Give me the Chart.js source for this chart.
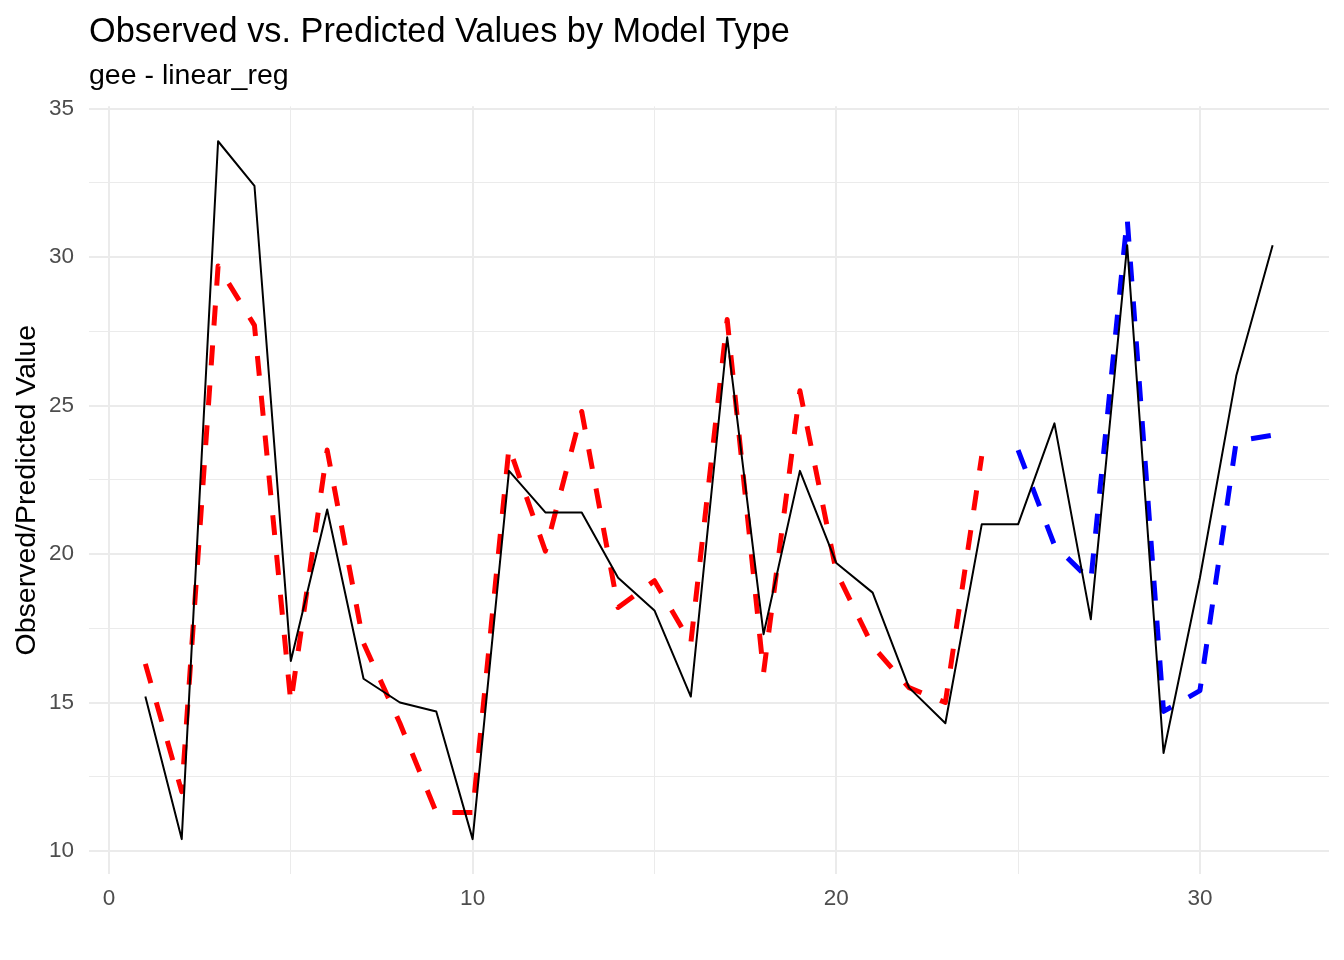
<!DOCTYPE html>
<html>
<head>
<meta charset="utf-8">
<script src="https://cdn.jsdelivr.net/npm/chart.js@4.4.1/dist/chart.umd.min.js"></script>
<style>
  html, body { margin: 0; padding: 0; background: #fff; }
  #wrap { width: 1344px; height: 960px; }
</style>
</head>
<body>
<div id="wrap"><canvas id="myChart" width="1344" height="960"></canvas></div>
<script>
// observation index 1..32
const obsIndex = [1, 2, 3, 4, 5, 6, 7, 8, 9, 10, 11, 12, 13, 14, 15, 16,
                  17, 18, 19, 20, 21, 22, 23, 24, 25, 26, 27, 28, 29, 30, 31, 32];
const observed = [15.2, 10.4, 33.9, 32.4, 16.4, 21.5, 15.8, 15.0, 14.7, 10.4, 22.8, 21.4, 21.4, 19.2, 18.1, 15.2,
                  27.3, 17.3, 22.8, 19.7, 18.7, 15.5, 14.3, 21.0, 21.0, 24.4, 17.8, 30.4, 13.3, 19.2, 26.0, 30.4];
// predicted, first group (red) x = 1..24
const predRedIndex = [1, 2, 3, 4, 5, 6, 7, 8, 9, 10, 11, 12, 13, 14, 15, 16, 17, 18, 19, 20, 21, 22, 23, 24];
const predRed = [16.3, 12.0, 29.7, 27.7, 15.0, 23.5, 17.0, 14.3, 11.3, 11.3, 23.6, 20.1,
                 24.8, 18.2, 19.1, 17.0, 27.9, 16.0, 25.5, 19.4, 16.9, 15.5, 15.0, 23.3];
// predicted, second group (blue) x = 25..32
const predBlueIndex = [25, 26, 27, 28, 29, 30, 31, 32];
const predBlue = [23.5, 20.3, 19.1, 31.3, 14.7, 15.4, 23.8, 24.0];

const xMajor = [0, 10, 20, 30];
const xMinor = [5, 15, 25];
const yMajor = [10, 15, 20, 25, 30, 35];
const yMinor = [12.5, 17.5, 22.5, 27.5, 32.5];

function toPoints(xs, ys) {
    return xs.map((x, i) => ({ x: x, y: ys[i] }));
}

const FONT = "'Liberation Sans', Arial, sans-serif";
const GRID = '#EBEBEB';

function gridStyle(major) {
    return {
        color: GRID,
        lineWidth: function (ctx) {
            return major.indexOf(ctx.tick && ctx.tick.value) >= 0 ? 2 : 1;
        },
        drawTicks: false
    };
}

var ctx = document.getElementById('myChart').getContext('2d');
var chart = new Chart(ctx, {
    type: 'line',
    data: {
        datasets: [{
            label: 'Observed',
            data: toPoints(obsIndex, observed),
            borderColor: '#000000',
            borderWidth: 2,
            borderJoinStyle: 'round',
            pointRadius: 0,
            tension: 0,
            fill: false
        },
        {
            label: 'Predicted',
            data: toPoints(predRedIndex, predRed),
            borderColor: '#FF0000',
            borderWidth: 5,
            borderDash: [20, 20],
            borderCapStyle: 'butt',
            borderJoinStyle: 'round',
            pointRadius: 0,
            tension: 0,
            fill: false
        },
        {
            label: 'Predicted 2',
            data: toPoints(predBlueIndex, predBlue),
            borderColor: '#0000FF',
            borderWidth: 5,
            borderDash: [20, 20],
            borderCapStyle: 'butt',
            borderJoinStyle: 'round',
            pointRadius: 0,
            tension: 0,
            fill: false
        }]
    },
    options: {
        responsive: false,
        animation: false,
        layout: {
            padding: { top: 12, right: 15, bottom: 0, left: 0 }
        },
        plugins: {
            legend: { display: false },
            tooltip: { enabled: false },
            title: {
                display: true,
                text: 'Observed vs. Predicted Values by Model Type',
                align: 'start',
                fullSize: false,
                color: '#000000',
                font: { family: FONT, size: 34.3, weight: 'normal' },
                padding: { top: 0, bottom: 6 }
            },
            subtitle: {
                display: true,
                text: 'gee - linear_reg',
                align: 'start',
                fullSize: false,
                color: '#000000',
                font: { family: FONT, size: 28.5, weight: 'normal' },
                padding: { top: 0, bottom: 13 }
            }
        },
        scales: {
            x: {
                type: 'linear',
                min: -0.55,
                max: 33.55,
                border: { display: false },
                grid: gridStyle(xMajor),
                afterBuildTicks: function (scale) {
                    scale.ticks = xMajor.concat(xMinor).sort((a, b) => a - b).map(v => ({ value: v }));
                },
                afterFit: function (scale) { scale.height = 86; },
                ticks: {
                    color: '#4D4D4D',
                    font: { family: FONT, size: 22.5 },
                    padding: 11,
                    maxRotation: 0,
                    autoSkip: false,
                    callback: function (value) {
                        return xMajor.indexOf(value) >= 0 ? String(value) : '';
                    }
                }
            },
            y: {
                type: 'linear',
                min: 9.225,
                max: 35.075,
                border: { display: false },
                grid: gridStyle(yMajor),
                afterBuildTicks: function (scale) {
                    scale.ticks = yMajor.concat(yMinor).sort((a, b) => a - b).map(v => ({ value: v }));
                },
                afterFit: function (scale) { scale.width = 89; },
                title: {
                    display: true,
                    text: 'Observed/Predicted Value',
                    color: '#000000',
                    font: { family: FONT, size: 28.5, weight: 'normal' },
                    padding: { top: 10, bottom: 0 }
                },
                ticks: {
                    color: '#4D4D4D',
                    font: { family: FONT, size: 22.5 },
                    padding: 15,
                    autoSkip: false,
                    callback: function (value) {
                        return yMajor.indexOf(value) >= 0 ? String(value) : '';
                    }
                }
            }
        }
    }
});
</script>
</body>
</html>
